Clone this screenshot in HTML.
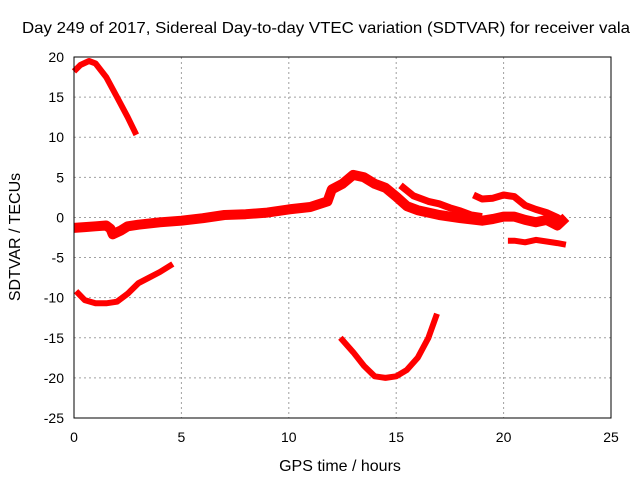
<!DOCTYPE html>
<html><head><meta charset="utf-8"><style>
body{margin:0;background:#fff}
svg{font-family:"Liberation Sans",sans-serif}
</style></head><body>
<svg id="chart" width="640" height="480" viewBox="0 0 640 480">
<text x="22" y="33" font-size="16" textLength="608" lengthAdjust="spacingAndGlyphs">Day 249 of 2017, Sidereal Day-to-day VTEC variation (SDTVAR) for receiver vala</text>
<text x="340" y="471" font-size="16" text-anchor="middle">GPS time / hours</text>
<text transform="translate(20,237) rotate(-90)" font-size="16" text-anchor="middle">SDTVAR / TECUs</text>
<g id="grid"></g><g id="ticks"></g><g id="series"></g>
<rect x="74" y="57" width="537" height="361" fill="none" stroke="#000" stroke-width="1"/>
</svg>
<script>
const xTicks=[0,5,10,15,20,25];
const yTicks=[20,15,10,5,0,-5,-10,-15,-20,-25];
const s1h=[0,0.3,0.7,1.0,1.5,2.0,2.5,2.9];
const s1v=[18.2,19,19.5,19.2,17.5,15,12.5,10.3];
const s2h=[0,0.5,1,1.5,1.7,1.8,2.2,2.5,3,4,5,6,7,8,9,10,11,11.8,12,12.5,13,13.5,14,14.5,15,15.5,16,17,18,19,19.5,20,20.5,21,21.5,22,22.5,22.9];
const s2v=[-1.3,-1.2,-1.1,-1.0,-1.4,-2.1,-1.6,-1.1,-0.9,-0.6,-0.4,-0.1,0.3,0.4,0.6,1.0,1.3,2.0,3.5,4.2,5.3,5.0,4.2,3.7,2.6,1.4,0.9,0.3,-0.1,-0.4,-0.2,0.1,0.1,-0.3,-0.6,-0.3,-1.0,0];
const s3h=[15.2,15.8,16.5,17,17.5,18,18.5,19];
const s3v=[4.0,2.7,2.0,1.7,1.2,0.8,0.3,0.1];
const s4h=[18.6,19,19.5,20,20.5,21,21.5,22,22.5,22.8];
const s4v=[2.8,2.3,2.4,2.8,2.6,1.5,1.0,0.6,0.0,-0.5];
const s5h=[20.2,20.5,21,21.5,22,22.5,22.9];
const s5v=[-2.9,-2.9,-3.1,-2.8,-3.0,-3.2,-3.4];
const s6h=[0.1,0.5,1,1.5,2,2.5,3,3.5,4,4.6];
const s6v=[-9.2,-10.3,-10.7,-10.7,-10.5,-9.5,-8.2,-7.5,-6.8,-5.8];
const s7h=[12.4,13,13.5,14,14.5,15,15.5,16,16.5,16.9];
const s7v=[-15,-16.8,-18.5,-19.8,-20,-19.8,-19,-17.5,-15,-12];
const NS="http://www.w3.org/2000/svg";
const X=h=>74+h*(537/25);
const Y=v=>57+(20-v)*(361/45);
function mk(t,a,p){const e=document.createElementNS(NS,t);for(const k in a)e.setAttribute(k,a[k]);p.appendChild(e);return e;}
const grid=document.getElementById('grid'),ticks=document.getElementById('ticks'),ser=document.getElementById('series');
xTicks.forEach(t=>{
 if(t>0&&t<25){const g=mk('line',{x1:X(t),x2:X(t),y1:57,y2:418,stroke:'#a0a0a0','stroke-dasharray':'2,3'},grid);
 
 }
 const tx=mk('text',{x:X(t),y:442,'font-size':14,'text-anchor':'middle'},ticks);tx.textContent=t;
 
 
});
yTicks.forEach(t=>{
 if(t<20&&t>-25){const g=mk('line',{x1:74,x2:611,y1:Y(t),y2:Y(t),stroke:'#a0a0a0','stroke-dasharray':'2,3'},grid);
 
 }
 const tx=mk('text',{x:64,y:Y(t)+5,'font-size':14,'text-anchor':'end'},ticks);tx.textContent=t;
 
 
});
[[s1h,s1v,6],[s2h,s2v,10],[s3h,s3v,7],[s4h,s4v,7],[s5h,s5v,6],[s6h,s6v,6],[s7h,s7v,6]].forEach((s,i)=>{
 const pts=s[0].map((h,j)=>X(h).toFixed(1)+','+Y(s[1][j]).toFixed(1)).join(' ');
 const p=mk('polyline',{points:pts,fill:'none',stroke:'#ff0000','stroke-width':s[2],'stroke-linejoin':'round','stroke-linecap':'butt'},ser);
 
 
});
</script>
</body></html>
